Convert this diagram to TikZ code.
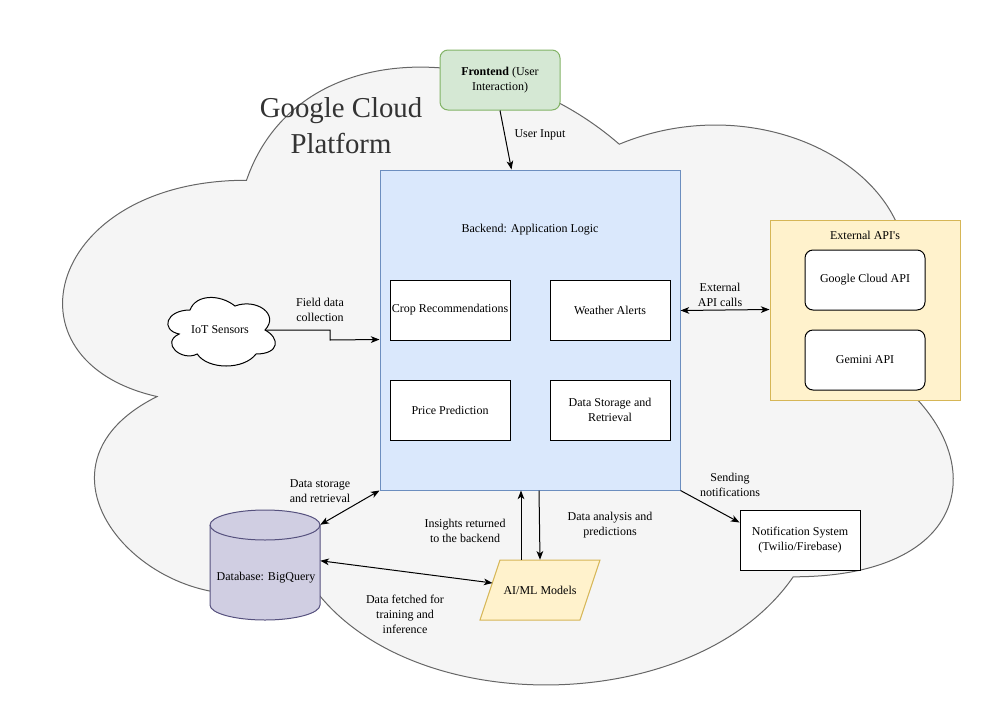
\documentclass[tikz,border=0pt]{standalone}
\usepackage{fontspec}
\setmainfont{Liberation Serif}
\usetikzlibrary{arrows.meta,calc}
\definecolor{cloudfill}{HTML}{F5F5F5}
\definecolor{cloudline}{HTML}{666666}
\definecolor{fefill}{HTML}{D5E8D4}
\definecolor{feline}{HTML}{82B366}
\definecolor{befill}{HTML}{DAE8FC}
\definecolor{beline}{HTML}{6C8EBF}
\definecolor{yfill}{HTML}{FFF2CC}
\definecolor{yline}{HTML}{D6B656}
\definecolor{dbfill}{HTML}{D0CEE2}
\definecolor{dbline}{HTML}{56517E}
\definecolor{titlecol}{HTML}{333333}
\tikzset{
  dcloud/.style n args={4}{insert path={
    ({#1+0.25*#3},{#2+0.25*#4}) .. controls ({#1+0.05*#3},{#2+0.25*#4}) and ({#1},{#2+0.5*#4}) .. ({#1+0.16*#3},{#2+0.55*#4})
    .. controls ({#1},{#2+0.66*#4}) and ({#1+0.18*#3},{#2+0.9*#4}) .. ({#1+0.31*#3},{#2+0.8*#4})
    .. controls ({#1+0.4*#3},{#2+#4}) and ({#1+0.7*#3},{#2+#4}) .. ({#1+0.8*#3},{#2+0.8*#4})
    .. controls ({#1+#3},{#2+0.8*#4}) and ({#1+#3},{#2+0.6*#4}) .. ({#1+0.875*#3},{#2+0.5*#4})
    .. controls ({#1+#3},{#2+0.3*#4}) and ({#1+0.8*#3},{#2+0.1*#4}) .. ({#1+0.625*#3},{#2+0.2*#4})
    .. controls ({#1+0.5*#3},{#2+0.05*#4}) and ({#1+0.3*#3},{#2+0.05*#4}) .. ({#1+0.25*#3},{#2+0.25*#4}) -- cycle}},
  txt/.style={font=\fontsize{9}{11.25}\selectfont, inner sep=0pt, align=center},
  box/.style={txt, draw=black, fill=white, line width=0.75pt, minimum width=90pt, minimum height=45pt},
  rbox/.style={box, rounded corners=6pt},
  ghost/.style={txt, minimum width=90pt, minimum height=45pt},
  tip/.tip={Stealth[length=6.5pt,width=5pt,inset=1.8pt]},
  arr/.style={line width=0.75pt, -tip},
  darr/.style={line width=0.75pt, tip-tip},
}
\begin{document}
\begin{tikzpicture}[x=0.75pt,y=-0.75pt]
\useasboundingbox (0,0) rectangle (991,721);
% big cloud
\draw[fill=cloudfill, draw=cloudline, line width=0.75pt, dcloud={-2}{0}{994}{721}];
\node[txt, text=titlecol, font=\fontsize{21.6}{27}\selectfont] (gcp) at (341,126) {Google Cloud\\Platform};

% frontend
\node[rbox, fill=fefill, draw=feline] (fe) at (500,80) {\textbf{Frontend} (User\\Interaction)};

% backend
\node[txt, draw=beline, fill=befill, line width=0.75pt, minimum width=225pt, minimum height=240pt] (be) at (530,330) {};
\node[txt] (betitle) at (530,230) {Backend: Application Logic};
\node[box] (crop) at (450,310) {Crop Recommendations};
\node[box] (weather) at (610,310) {Weather Alerts};
\node[box] (price) at (450,410) {Price Prediction};
\node[box] (dsr) at (610,410) {Data Storage and\\Retrieval};

% IoT
\draw[fill=white, draw=black, line width=0.75pt, dcloud={160}{290}{120}{80}];
\node[ghost, minimum width=60pt] (iot) at (220,330) {IoT Sensors};

% external APIs
\node[txt, draw=yline, fill=yfill, line width=0.75pt, minimum width=142.5pt, minimum height=135pt] (ext) at (865,310) {};
\node[txt] (exttitle) at (865,235) {External API\textquotesingle s};
\node[rbox] (gapi) at (865,280) {Google Cloud API};
\node[rbox] (gem) at (865,360) {Gemini API};

% notification
\node[box] (notif) at (800,540) {Notification System\\(Twilio/Firebase)};

% database
\node[ghost, minimum width=82.5pt, minimum height=82.5pt] (db) at (265,565) {};
\draw[fill=dbfill, draw=dbline, line width=0.75pt] (210,525) -- (210,605)
  arc[start angle=180, end angle=360, x radius=41.25pt, y radius=11.25pt] -- (320,525)
  arc[start angle=0, end angle=180, x radius=41.25pt, y radius=11.25pt] -- cycle;
\draw[draw=dbline, line width=0.75pt] (210,525) arc[start angle=180, end angle=360, x radius=41.25pt, y radius=11.25pt];
\node[txt] (dbtext) at (266,578) {Database: BigQuery};

% AI/ML
\node[ghost] (ai) at (540,590) {};
\draw[fill=yfill, draw=yline, line width=0.75pt] (500,560) -- (600,560) -- (580,620) -- (480,620) -- cycle;
\node[txt] (aitext) at (540,590) {AI/ML Models};

% connectors
\draw[arr] (fe.south) -- ($(be.north west)+(132,0)$);
\node[txt] (l1) at (540,135) {User Input};

\coordinate (iotR) at (265,330);
\draw[arr] (iotR) -- (330,330) -- (330,340) -- ($(be.north west)+(0,170)$);
\node[txt] (l2) at (320,310) {Field data\\collection};

\draw[darr] ($(be.north east)+(0,141)$) -- ($(ext.north west)+(0,90)$);
\node[txt] (l3) at (720,295) {External\\API calls};

\draw[arr] (be.south east) -- ($(notif.north west)+(0,13)$);
\node[txt] (l4) at (730,485) {Sending\\notifications};

\draw[darr] (be.south west) -- ($(db.north east)+(0,15)$);
\node[txt] (l5) at (320,491) {Data storage\\and retrieval};

\draw[arr] ($(ai.north)+(-19,0)$) -- ($(be.south)+(-9,0)$);
\node[txt] (l6) at (465,531) {Insights returned\\to the backend};

\draw[arr] ($(be.south)+(9,0)$) -- (ai.north);
\node[txt] (l7) at (610,525) {Data analysis and\\predictions};

\coordinate (aiL) at (492.5,583);
\draw[darr] ($(db.north east)+(0,51)$) -- (aiL);
\node[txt] (l8) at (405,614) {Data fetched for\\training and\\inference};
\end{tikzpicture}
\end{document}
